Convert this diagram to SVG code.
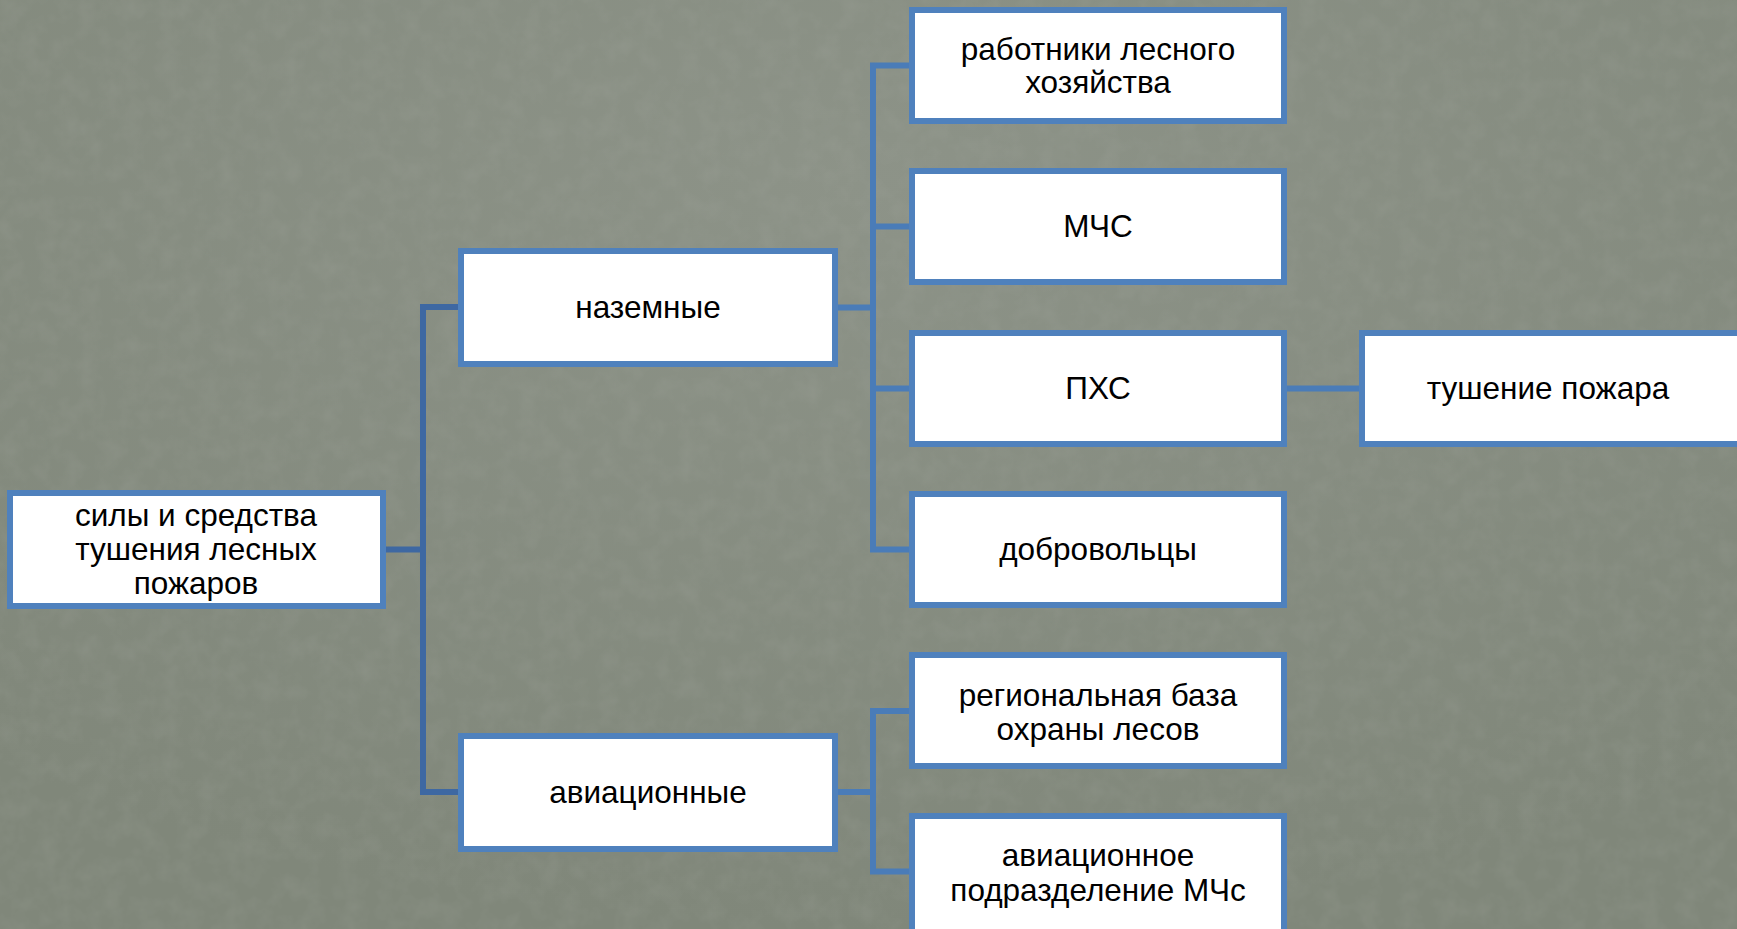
<svg xmlns="http://www.w3.org/2000/svg" width="1737" height="929" viewBox="0 0 1737 929">
  <defs>
    <radialGradient id="bg" cx="0.5" cy="0.2" r="0.8">
      <stop offset="0" stop-color="#8d9388"/>
      <stop offset="1" stop-color="#80877a"/>
    </radialGradient>
    <filter id="noise" x="0" y="0" width="100%" height="100%">
      <feTurbulence type="fractalNoise" baseFrequency="0.05" numOctaves="3" seed="4"/>
      <feColorMatrix type="matrix" values="0 0 0 0 0.4  0 0 0 0 0.42  0 0 0 0 0.38  0 0 0 -1.2 0.75"/>
    </filter>
    <style>
      .box { fill: #ffffff; stroke: #4f81bd; stroke-width: 6; }
      .lbl { font-family: "Liberation Sans", Arial, sans-serif; font-size: 31.5px; fill: #000000; text-anchor: middle; }
      .c1 { fill: none; stroke: #3e68a2; stroke-width: 6; }
      .c2 { fill: none; stroke: #4a7cb8; stroke-width: 6; }
    </style>
  </defs>
  <rect x="0" y="0" width="1737" height="929" fill="url(#bg)"/>
  <rect x="0" y="0" width="1737" height="929" filter="url(#noise)" opacity="0.25"/>

  <g id="connectors">
    <path class="c1" d="M385 549.5 H423 M423 307 V792 M420 307 H458 M420 792 H458"/>
    <path class="c2" d="M838 307.5 H873 M873 65.5 V549.5 M870 65.5 H909 M870 226.5 H909 M870 388.5 H909 M870 549.5 H909"/>
    <path class="c2" d="M838 792 H873 M873 711 V871.5 M870 711 H909 M870 871.5 H909"/>
    <path class="c2" d="M1287 388.5 H1359"/>
  </g>

  <g id="node-root">
    <rect class="box" x="10" y="493" width="373" height="113"/>
    <text class="lbl" x="196" y="526">силы и средства</text>
    <text class="lbl" x="196" y="560">тушения лесных</text>
    <text class="lbl" x="196" y="594">пожаров</text>
  </g>
  <g id="node-ground">
    <rect class="box" x="461" y="251" width="374" height="113"/>
    <text class="lbl" x="648" y="318">наземные</text>
  </g>
  <g id="node-air">
    <rect class="box" x="461" y="736" width="374" height="113"/>
    <text class="lbl" x="648" y="803">авиационные</text>
  </g>
  <g id="node-forestry">
    <rect class="box" x="912" y="10" width="372" height="111"/>
    <text class="lbl" x="1098" y="60">работники лесного</text>
    <text class="lbl" x="1098" y="93">хозяйства</text>
  </g>
  <g id="node-mchs">
    <rect class="box" x="912" y="171" width="372" height="111"/>
    <text class="lbl" x="1098" y="237">МЧС</text>
  </g>
  <g id="node-pkhs">
    <rect class="box" x="912" y="333" width="372" height="111"/>
    <text class="lbl" x="1098" y="399">ПХС</text>
  </g>
  <g id="node-volunteers">
    <rect class="box" x="912" y="494" width="372" height="111"/>
    <text class="lbl" x="1098" y="560">добровольцы</text>
  </g>
  <g id="node-regional">
    <rect class="box" x="912" y="655" width="372" height="111"/>
    <text class="lbl" x="1098" y="706">региональная база</text>
    <text class="lbl" x="1098" y="740">охраны лесов</text>
  </g>
  <g id="node-air-mchs">
    <rect class="box" x="912" y="816" width="372" height="120"/>
    <text class="lbl" x="1098" y="866">авиационное</text>
    <text class="lbl" x="1098" y="901">подразделение МЧс</text>
  </g>
  <g id="node-extinguish">
    <rect class="box" x="1362" y="333" width="380" height="111"/>
    <text class="lbl" x="1548" y="399">тушение пожара</text>
  </g>
</svg>
